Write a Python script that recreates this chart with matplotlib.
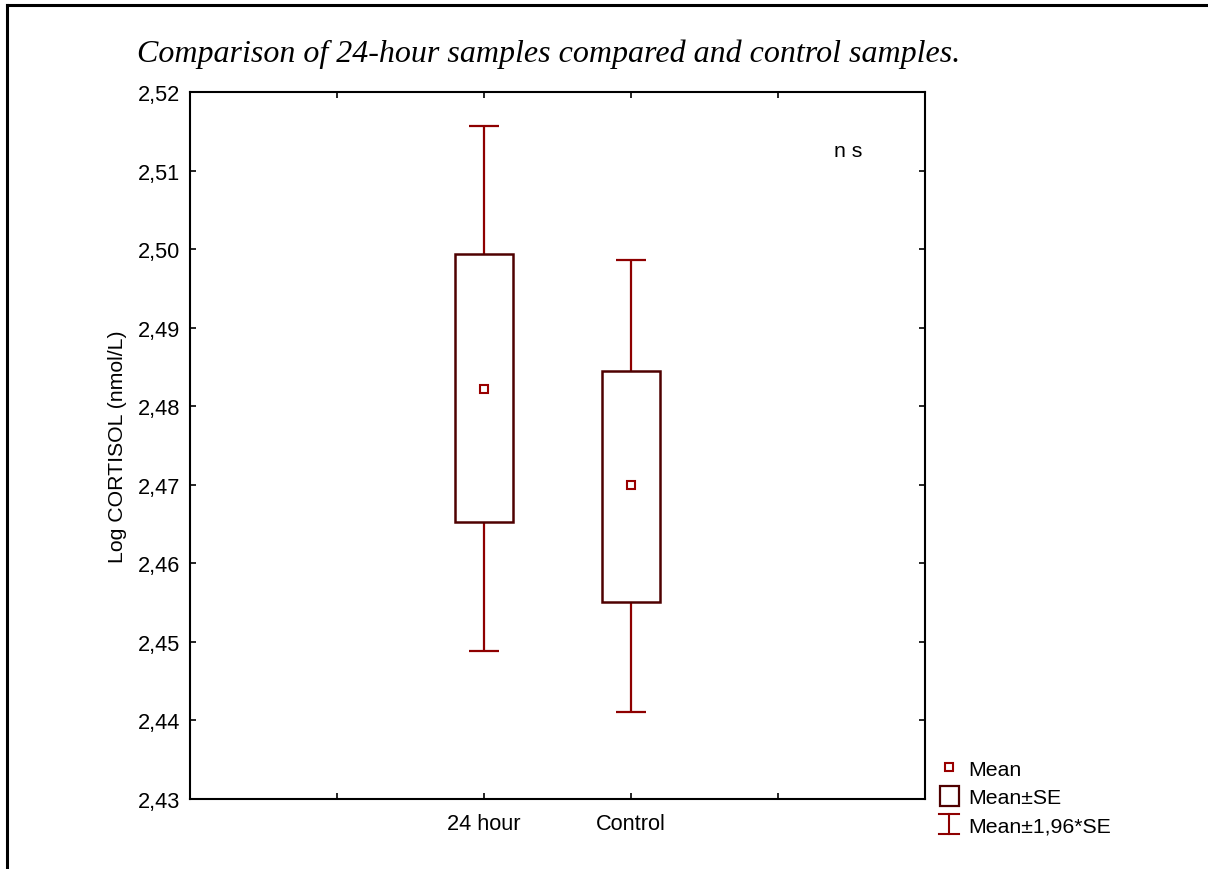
import matplotlib
matplotlib.use("Agg")
import matplotlib.pyplot as plt
from matplotlib.lines import Line2D
from matplotlib.patches import Rectangle
from matplotlib.legend_handler import HandlerBase
from matplotlib.ticker import FuncFormatter


# data
groups = ['24 hour', 'Control']
group_pos = [2, 3]
means = [2.4822, 2.4700]
se_low = [2.4653, 2.4551]
se_high = [2.4994, 2.4845]
ci_low = [2.4488, 2.4411]
ci_high = [2.5157, 2.4986]

box_col = '#4f0000'
whisk_col = '#8e0000'
mean_col = '#990000'

plt.rcParams['font.family'] = ['Liberation Sans', 'DejaVu Sans']


class HandlerBox(HandlerBase):
    def create_artists(self, legend, orig_handle, xdescent, ydescent,
                       width, height, fontsize, trans):
        w = 0.75 * width
        h = 1.35 * height
        x0 = (width - w) / 2 - xdescent
        y0 = (height - h) / 2 - ydescent
        r = Rectangle((x0, y0), w, h, facecolor='white', edgecolor=box_col,
                      linewidth=1.6, transform=trans)
        return [r]


class HandlerWhisker(HandlerBase):
    def create_artists(self, legend, orig_handle, xdescent, ydescent,
                       width, height, fontsize, trans):
        h = 1.35 * height
        cx = width / 2 - xdescent
        y0 = (height - h) / 2 - ydescent
        cw = 0.8 * width
        arts = [Line2D([cx, cx], [y0, y0 + h], color=whisk_col, lw=1.5, transform=trans),
                Line2D([cx - cw / 2, cx + cw / 2], [y0, y0], color=whisk_col, lw=1.5, transform=trans),
                Line2D([cx - cw / 2, cx + cw / 2], [y0 + h, y0 + h], color=whisk_col, lw=1.5, transform=trans)]
        return arts


fig = plt.figure(figsize=(12.08, 8.7), dpi=100)
ax = fig.add_axes([190 / 1208, 1 - 800 / 870, 735 / 1208, 707 / 870])

# whiskers (drawn under the boxes)
ax.vlines(group_pos, ci_low, ci_high, color=whisk_col, lw=1.6, zorder=1)
ax.hlines(ci_low, [p - 0.1 for p in group_pos], [p + 0.1 for p in group_pos],
          color=whisk_col, lw=1.6, zorder=1)
ax.hlines(ci_high, [p - 0.1 for p in group_pos], [p + 0.1 for p in group_pos],
          color=whisk_col, lw=1.6, zorder=1)

# boxes mean +- SE
heights = [h - l for h, l in zip(se_high, se_low)]
ax.bar(group_pos, heights, bottom=se_low, width=0.4, facecolor='white',
       edgecolor=box_col, linewidth=1.8, zorder=2)

# mean markers
ax.plot(group_pos, means, 's', ms=5.5, mfc='white', mec=mean_col, mew=1.5, zorder=3)

ax.set_xlim(0, 5)
ax.set_ylim(2.43, 2.52)
ax.set_xticks([1, 2, 3, 4])
ax.set_xticklabels([''] + groups + [''])
ax.set_yticks([2.43 + 0.01 * i for i in range(10)])
ax.yaxis.set_major_formatter(FuncFormatter(lambda v, p: f'{v:.2f}'.replace('.', ',')))
ax.tick_params(direction='in', length=4, width=1.2, labelsize=15.7,
               top=True, right=True, pad=7)
ax.tick_params(axis='x', pad=10)
for s in ax.spines.values():
    s.set_linewidth(1.5)

ax.set_ylabel('Log CORTISOL (nmol/L)', fontsize=15.3, labelpad=8)
ax.text(0.895, 0.917, 'n s', transform=ax.transAxes, fontsize=15.3, ha='center', va='center')

fig.text(137 / 1208, 1 - 54 / 870,
         'Comparison of 24-hour samples compared and control samples.',
         family=['Liberation Serif', 'DejaVu Serif'], style='italic', fontsize=23,
         ha='left', va='center')

# legend outside, bottom right
h_mean = Line2D([], [], marker='s', ls='none', ms=5.5, mfc='white', mec=mean_col, mew=1.5)
h_box = Rectangle((0, 0), 1, 1)
h_whisk = Line2D([], [])
leg = ax.legend([h_mean, h_box, h_whisk], ['Mean', 'Mean±SE', 'Mean±1,96*SE'],
                handler_map={Rectangle: HandlerBox(), h_whisk: HandlerWhisker()},
                loc='lower left', bbox_to_anchor=(1.004, -0.064), frameon=False,
                fontsize=15.3, handlelength=1.2, handletextpad=0.3, labelspacing=0.45,
                borderaxespad=0)

# page border (left and top edges visible)
fig.add_artist(Line2D([7 / 1208, 7 / 1208], [0, 1 - 6 / 870], color='black', lw=2.2,
                      transform=fig.transFigure))
fig.add_artist(Line2D([7 / 1208, 1], [1 - 6 / 870, 1 - 6 / 870], color='black', lw=2.2,
                      transform=fig.transFigure))

fig.savefig('out.png', dpi=100)
